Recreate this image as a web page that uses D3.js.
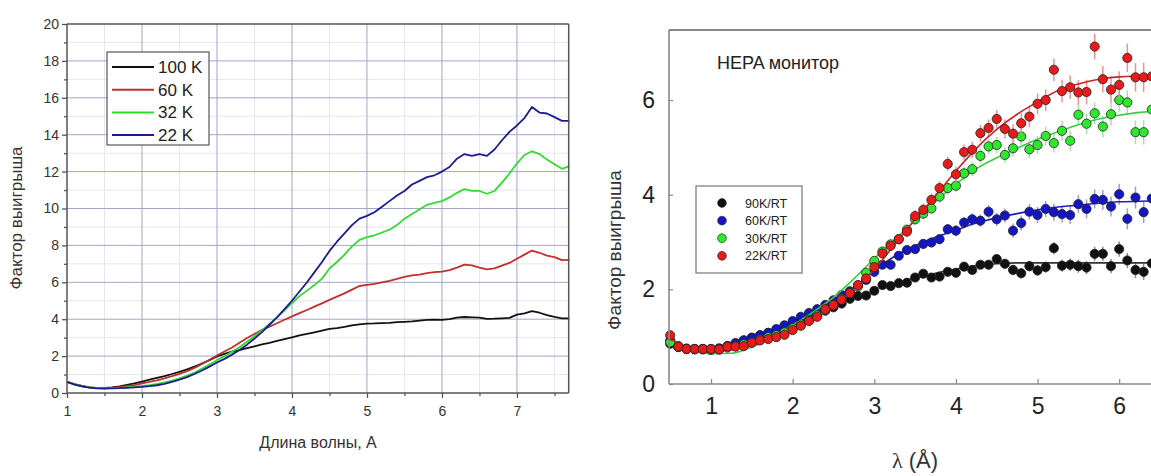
<!DOCTYPE html>
<html>
<head>
<meta charset="utf-8">
<script src="https://cdn.jsdelivr.net/npm/d3@7"></script>
<style>
body { margin: 0; background: #fff; }
svg { display: block; }
text { font-family: Arial, "Liberation Sans", sans-serif; }
</style>
</head>
<body>
<svg id="chart" width="1151" height="476"></svg>
<script>
// ---------- left panel: gain vs wavelength ----------
var waveL = [1.0,1.1,1.2,1.3,1.4,1.5,1.6,1.7,1.8,1.9,
             2.0,2.1,2.2,2.3,2.4,2.5,2.6,2.7,2.8,2.9,
             3.0,3.1,3.2,3.3,3.4,3.5,3.6,3.7,3.8,3.9,
             4.0,4.1,4.2,4.3,4.4,4.5,4.6,4.7,4.8,4.9,
             5.0,5.1,5.2,5.3,5.4,5.5,5.6,5.7,5.8,5.9,
             6.0,6.1,6.2,6.3,6.4,6.5,6.6,6.7,6.8,6.9,
             7.0,7.1,7.2,7.3,7.4,7.5,7.6,7.7];
var gain100K = [0.60,0.48,0.38,0.31,0.27,0.27,0.30,0.36,0.44,0.52,
                0.62,0.72,0.82,0.92,1.03,1.15,1.28,1.43,1.60,1.78,
                1.98,2.12,2.24,2.33,2.43,2.53,2.63,2.72,2.82,2.92,
                3.02,3.12,3.20,3.29,3.38,3.47,3.52,3.58,3.66,3.72,
                3.76,3.77,3.79,3.80,3.84,3.86,3.88,3.92,3.96,3.97,
                3.96,4.00,4.08,4.12,4.10,4.08,4.02,4.03,4.05,4.07,
                4.25,4.32,4.44,4.35,4.22,4.12,4.05,4.05];
var gain60K = [0.60,0.47,0.37,0.30,0.26,0.26,0.28,0.32,0.37,0.43,
               0.52,0.60,0.69,0.79,0.91,1.04,1.19,1.36,1.57,1.80,
               2.03,2.25,2.47,2.72,2.98,3.20,3.42,3.60,3.78,3.97,
               4.15,4.33,4.50,4.68,4.86,5.05,5.22,5.40,5.60,5.80,
               5.86,5.92,6.00,6.08,6.18,6.30,6.38,6.42,6.50,6.55,
               6.58,6.66,6.80,6.96,6.92,6.80,6.70,6.75,6.90,7.05,
               7.28,7.50,7.72,7.60,7.45,7.36,7.20,7.22];
var gain32K = [0.60,0.47,0.37,0.30,0.26,0.25,0.26,0.28,0.31,0.34,
               0.38,0.43,0.49,0.57,0.67,0.80,0.94,1.11,1.32,1.54,
               1.78,2.00,2.23,2.48,2.78,3.08,3.40,3.75,4.10,4.48,
               4.88,5.25,5.55,5.85,6.20,6.75,7.10,7.50,7.95,8.30,
               8.45,8.55,8.70,8.85,9.10,9.45,9.70,9.95,10.20,10.30,
               10.40,10.60,10.85,11.05,10.95,10.95,10.80,10.95,11.40,11.90,
               12.45,12.90,13.10,12.95,12.65,12.40,12.15,12.30];
var gain22K = [0.60,0.46,0.36,0.29,0.25,0.24,0.25,0.26,0.28,0.30,
               0.33,0.37,0.42,0.50,0.60,0.72,0.86,1.03,1.22,1.43,
               1.65,1.85,2.08,2.33,2.62,2.95,3.30,3.70,4.10,4.55,
               5.00,5.50,6.00,6.55,7.10,7.70,8.20,8.65,9.10,9.45,
               9.60,9.80,10.10,10.40,10.70,10.95,11.30,11.50,11.70,11.80,
               12.00,12.25,12.70,12.95,12.85,12.95,12.85,13.20,13.70,14.15,
               14.50,14.90,15.50,15.20,15.15,14.95,14.75,14.75];
var namesL = ["100 K", "60 K", "32 K", "22 K"];
var colorsL = ["#111111", "#c0302e", "#2fdc2f", "#1c1c8e"];
var yTicksL = [0,2,4,6,8,10,12,14,16,18,20];
var xTicksL = [1,2,3,4,5,6,7];

// ---------- right panel: HEPA monitor ----------
var lambdaR = [0.5,0.6,0.7,0.8,0.9,1.0,1.1,1.2,1.3,1.4,
               1.5,1.6,1.7,1.8,1.9,2.0,2.1,2.2,2.3,2.4,
               2.5,2.6,2.7,2.8,2.9,3.0,3.1,3.2,3.3,3.4,
               3.5,3.6,3.7,3.8,3.9,4.0,4.1,4.2,4.3,4.4,
               4.5,4.6,4.7,4.8,4.9,5.0,5.1,5.2,5.3,5.4,
               5.5,5.6,5.7,5.8,5.9,6.0,6.1,6.2,6.3,6.4];
var ratio90K = [0.85,0.78,0.74,0.74,0.74,0.73,0.75,0.80,0.86,0.92,
                0.98,1.03,1.08,1.14,1.22,1.28,1.33,1.40,1.47,1.55,
                1.62,1.70,1.80,1.86,1.87,1.97,2.09,2.07,2.13,2.14,
                2.25,2.33,2.25,2.27,2.37,2.35,2.48,2.41,2.52,2.52,
                2.64,2.54,2.41,2.34,2.49,2.40,2.47,2.87,2.50,2.52,
                2.49,2.46,2.75,2.75,2.49,2.85,2.61,2.41,2.37,2.55];
var ratio60K = [0.92,0.80,0.75,0.74,0.74,0.74,0.75,0.80,0.86,0.92,
                0.97,1.03,1.08,1.16,1.24,1.33,1.42,1.50,1.58,1.67,
                1.77,1.88,1.96,2.08,2.20,2.37,2.52,2.52,2.71,2.83,
                2.85,2.96,2.99,3.06,3.27,3.24,3.41,3.48,3.45,3.64,
                3.48,3.56,3.24,3.40,3.64,3.57,3.70,3.63,3.59,3.57,
                3.80,3.70,3.91,3.89,3.75,4.01,3.49,3.94,3.63,3.92];
var ratio30K = [0.88,0.78,0.74,0.73,0.73,0.72,0.73,0.77,0.80,0.84,
                0.88,0.94,0.99,1.03,1.09,1.18,1.26,1.35,1.45,1.56,
                1.66,1.80,1.92,2.06,2.35,2.60,2.80,2.95,3.06,3.26,
                3.48,3.60,3.71,3.96,4.14,4.19,4.45,4.54,4.82,5.02,
                5.05,4.84,4.98,5.23,4.96,5.05,5.24,5.09,5.35,5.14,
                5.69,5.50,5.72,5.44,5.70,6.00,5.95,5.32,5.32,5.80];
var ratio22K = [1.03,0.79,0.74,0.74,0.74,0.74,0.73,0.79,0.79,0.80,
                0.87,0.92,0.95,0.99,1.04,1.14,1.23,1.33,1.42,1.58,
                1.67,1.78,1.92,2.09,2.23,2.47,2.76,2.92,3.06,3.22,
                3.55,3.68,3.89,4.14,4.65,4.43,4.90,4.95,5.30,5.41,
                5.60,5.39,5.29,5.51,5.65,5.92,6.00,6.64,6.19,6.27,
                6.16,6.17,7.13,6.44,6.22,6.32,6.89,6.48,6.48,6.50];
var err90K = [0.04,0.04,0.04,0.04,0.04,0.04,0.04,0.04,0.04,0.04,
              0.04,0.04,0.04,0.04,0.04,0.05,0.05,0.05,0.05,0.05,
              0.05,0.05,0.06,0.06,0.06,0.06,0.06,0.06,0.07,0.07,
              0.07,0.07,0.08,0.08,0.08,0.08,0.09,0.09,0.09,0.10,
              0.10,0.10,0.11,0.11,0.11,0.12,0.12,0.13,0.13,0.13,
              0.14,0.14,0.15,0.15,0.15,0.16,0.16,0.17,0.17,0.18];
var err60K = [0.04,0.04,0.04,0.04,0.04,0.04,0.04,0.04,0.04,0.04,
              0.04,0.04,0.05,0.05,0.05,0.05,0.05,0.05,0.06,0.06,
              0.06,0.06,0.07,0.07,0.07,0.08,0.08,0.08,0.09,0.09,
              0.10,0.10,0.10,0.11,0.11,0.12,0.12,0.13,0.13,0.14,
              0.14,0.15,0.15,0.16,0.16,0.17,0.17,0.18,0.18,0.19,
              0.19,0.20,0.20,0.21,0.21,0.22,0.22,0.23,0.23,0.24];
var err30K = [0.04,0.04,0.04,0.04,0.04,0.04,0.04,0.04,0.04,0.04,
              0.04,0.05,0.05,0.05,0.05,0.05,0.06,0.06,0.06,0.07,
              0.07,0.07,0.08,0.08,0.09,0.09,0.10,0.10,0.11,0.11,
              0.12,0.12,0.13,0.13,0.14,0.14,0.15,0.15,0.16,0.16,
              0.17,0.17,0.18,0.18,0.19,0.19,0.20,0.20,0.21,0.21,
              0.22,0.22,0.23,0.23,0.24,0.24,0.25,0.25,0.26,0.26];
var err22K = [0.04,0.04,0.04,0.04,0.04,0.04,0.04,0.04,0.04,0.04,
              0.04,0.05,0.05,0.05,0.05,0.05,0.06,0.06,0.06,0.07,
              0.07,0.07,0.08,0.08,0.09,0.09,0.10,0.11,0.11,0.12,
              0.12,0.13,0.14,0.14,0.15,0.16,0.16,0.17,0.18,0.18,
              0.19,0.20,0.20,0.21,0.22,0.22,0.23,0.24,0.24,0.25,
              0.26,0.26,0.27,0.28,0.28,0.29,0.30,0.30,0.31,0.32];
var fitLambda = [0.5,0.75,1.0,1.25,1.5,1.75,2.0,2.25,2.5,2.75,3.0,3.25,3.5,
                 3.75,4.0,4.25,4.5,4.75,5.0,5.25,5.5,5.75,6.0,6.25,6.5];
var fit90K = [null,null,null,null,null,null,null,null,null,null,null,2.12,2.24,
              2.34,2.43,2.50,2.54,2.56,2.56,2.56,2.56,2.56,2.56,2.56,2.56];
var fit60K = [null,null,null,null,null,null,null,null,null,2.02,2.40,2.70,2.92,
              3.10,3.25,3.40,3.51,3.60,3.68,3.74,3.78,3.82,3.85,3.86,3.87];
var fit30K = [0.92,0.72,0.64,0.65,0.78,0.98,1.25,1.52,1.83,2.22,2.65,3.05,3.45,
              3.86,4.22,4.55,4.78,4.98,5.17,5.33,5.48,5.60,5.68,5.74,5.77];
var fit22K = [0.95,0.76,0.70,0.72,0.82,0.97,1.15,1.38,1.65,2.00,2.42,2.95,3.48,
              3.98,4.50,4.98,5.38,5.70,5.96,6.20,6.34,6.44,6.49,6.51,6.52];
var namesR = ["90K/RT", "60K/RT", "30K/RT", "22K/RT"];
var colorsR = ["#111111", "#1515c8", "#2ee82e", "#e81a1a"];
var fitColorsR = ["#333333", "#2020b8", "#3ccc3c", "#d0202a"];
var errColorsR = ["#8a8a8a", "#9a9ae0", "#9ee89e", "#f09090"];
var yTicksR = [0, 2, 4, 6];
var xTicksR = [1, 2, 3, 4, 5, 6];

var svg = d3.select("#chart");
var intFmt = d3.format("d");

// ================= left panel =================
var xL = d3.scaleLinear().domain([1, 7.69]).range([67, 568.7]);
var yL = d3.scaleLinear().domain([0, 20]).range([393, 24]);
var gL = svg.append("g");

// minor grid
var minorX = [1.5,2.5,3.5,4.5,5.5,6.5,7.5];
var minorY = [1,3,5,7,9,11,13,15,17,19];
gL.selectAll("line.mgx").data(minorX).enter().append("line")
  .attr("x1", function(d) { return xL(d); }).attr("x2", function(d) { return xL(d); })
  .attr("y1", yL(0)).attr("y2", yL(20))
  .attr("stroke", "#e6e6f0").attr("stroke-width", 1);
gL.selectAll("line.mgy").data(minorY).enter().append("line")
  .attr("x1", xL(1)).attr("x2", xL.range()[1])
  .attr("y1", function(d) { return yL(d); }).attr("y2", function(d) { return yL(d); })
  .attr("stroke", "#e6e6f0").attr("stroke-width", 1);
// major grid
gL.selectAll("line.gx").data(xTicksL.slice(1)).enter().append("line")
  .attr("x1", function(d) { return xL(d); }).attr("x2", function(d) { return xL(d); })
  .attr("y1", yL(0)).attr("y2", yL(20))
  .attr("stroke", "#a4a4cc").attr("stroke-width", 1);
gL.selectAll("line.gy").data(yTicksL.slice(1, -1)).enter().append("line")
  .attr("x1", xL(1)).attr("x2", xL.range()[1])
  .attr("y1", function(d) { return yL(d); }).attr("y2", function(d) { return yL(d); })
  .attr("stroke", "#a4a4cc").attr("stroke-width", 1);

// curves
var lineL = d3.line().x(function(d) { return xL(d[0]); }).y(function(d) { return yL(d[1]); });
[gain100K, gain60K, gain32K, gain22K].forEach(function(s, k) {
  gL.append("path")
    .datum(waveL.map(function(w, i) { return [w, s[i]]; }))
    .attr("d", lineL)
    .attr("fill", "none")
    .attr("stroke", colorsL[k])
    .attr("stroke-width", 1.8)
    .attr("stroke-linejoin", "round");
});

// frame
gL.append("line").attr("x1", xL(1)).attr("x2", xL.range()[1]).attr("y1", yL(20)).attr("y2", yL(20))
  .attr("stroke", "#555").attr("stroke-width", 1.5);
gL.append("line").attr("x1", xL.range()[1]).attr("x2", xL.range()[1]).attr("y1", yL(0)).attr("y2", yL(20))
  .attr("stroke", "#555").attr("stroke-width", 1.5);

// axes
var axL = gL.append("g").attr("transform", "translate(" + xL(1) + ",0)")
  .call(d3.axisLeft(yL).tickValues(yTicksL).tickFormat(intFmt).tickSize(5).tickPadding(3));
var axLm = gL.append("g").attr("transform", "translate(" + xL(1) + ",0)")
  .call(d3.axisLeft(yL).tickValues(minorY).tickSize(3).tickFormat(""));
var axB = gL.append("g").attr("transform", "translate(0," + yL(0) + ")")
  .call(d3.axisBottom(xL).tickValues(xTicksL).tickFormat(intFmt).tickSize(5).tickPadding(8));
var axBm = gL.append("g").attr("transform", "translate(0," + yL(0) + ")")
  .call(d3.axisBottom(xL).tickValues(minorX).tickSize(3).tickFormat(""));
[axL, axLm, axB, axBm].forEach(function(a) {
  a.select(".domain").attr("stroke", "#555").attr("stroke-width", 1.5);
  a.selectAll(".tick line").attr("stroke", "#555").attr("stroke-width", 1.3);
  a.selectAll("text").attr("font-size", 14).attr("fill", "#333").attr("font-family", "Arial, Liberation Sans, sans-serif");
});
axL.select(".domain").attr("d", "M0," + yL(0) + "V" + yL(20));
axB.select(".domain").attr("d", "M" + xL(1) + ",0H" + xL.range()[1]);
axLm.select(".domain").remove();
axBm.select(".domain").remove();

gL.append("text")
  .attr("transform", "translate(22,218) rotate(-90)")
  .attr("text-anchor", "middle")
  .attr("font-size", 17)
  .attr("fill", "#333")
  .text("Фактор выигрыша");
gL.append("text")
  .attr("x", 318).attr("y", 448)
  .attr("text-anchor", "middle")
  .attr("font-size", 16)
  .attr("fill", "#333")
  .text("Длина волны, А");

// legend
var legL = gL.append("g");
legL.append("rect").attr("x", 107).attr("y", 52).attr("width", 102).attr("height", 93)
  .attr("fill", "#fff").attr("stroke", "#555").attr("stroke-width", 1.2);
namesL.forEach(function(n, k) {
  var yy = 67 + k * 22.7;
  legL.append("line").attr("x1", 112).attr("x2", 154).attr("y1", yy).attr("y2", yy)
    .attr("stroke", colorsL[k]).attr("stroke-width", 2);
  legL.append("text").attr("x", 158).attr("y", yy + 6)
    .attr("font-size", 17).attr("fill", "#222").text(n);
});

// ================= right panel =================
var xR = d3.scaleLinear().domain([0.485, 6.39]).range([669, 1151]);
var yR = d3.scaleLinear().domain([0, 7.48]).range([384, 30]);
var gR = svg.append("g");

svg.append("defs").append("clipPath").attr("id", "clipR")
  .append("rect").attr("x", 660).attr("y", 20).attr("width", 491).attr("height", 370);

// fits
var lineR = d3.line()
  .defined(function(d) { return d[1] != null; })
  .curve(d3.curveMonotoneX)
  .x(function(d) { return xR(d[0]); }).y(function(d) { return yR(d[1]); });

var plotR = gR.append("g").attr("clip-path", "url(#clipR)");
var seriesR = [ratio90K, ratio60K, ratio30K, ratio22K];
var errsR = [err90K, err60K, err30K, err22K];
var fitsR = [fit90K, fit60K, fit30K, fit22K];

seriesR.forEach(function(s, k) {
  var pts = lambdaR.map(function(l, i) { return { x: l, y: s[i], e: errsR[k][i] }; });
  plotR.selectAll("line.e" + k).data(pts).enter().append("line")
    .attr("x1", function(d) { return xR(d.x); }).attr("x2", function(d) { return xR(d.x); })
    .attr("y1", function(d) { return yR(d.y - d.e); }).attr("y2", function(d) { return yR(d.y + d.e); })
    .attr("stroke", errColorsR[k]).attr("stroke-width", 1.5);
  plotR.append("path")
    .datum(fitLambda.map(function(l, i) { return [l, fitsR[k][i]]; }))
    .attr("d", lineR)
    .attr("fill", "none")
    .attr("stroke", fitColorsR[k])
    .attr("stroke-width", 1.6);
  plotR.selectAll("circle.p" + k).data(pts).enter().append("circle")
    .attr("cx", function(d) { return xR(d.x); })
    .attr("cy", function(d) { return yR(d.y); })
    .attr("r", 4.6)
    .attr("fill", colorsR[k])
    .attr("stroke", "#222")
    .attr("stroke-width", 0.8);
});

// frame + axes
gR.append("line").attr("x1", 669).attr("x2", 1151).attr("y1", yR(7.48)).attr("y2", yR(7.48))
  .attr("stroke", "#888").attr("stroke-width", 2);
var axRL = gR.append("g").attr("transform", "translate(669,0)")
  .call(d3.axisLeft(yR).tickValues(yTicksR).tickFormat(intFmt).tickSize(-4).tickPadding(14));
var axRB = gR.append("g").attr("transform", "translate(0,384)")
  .call(d3.axisBottom(xR).tickValues(xTicksR).tickFormat(intFmt).tickSize(-5).tickPadding(14));
[axRL, axRB].forEach(function(a) {
  a.select(".domain").attr("stroke", "#888").attr("stroke-width", 1.6);
  a.selectAll(".tick line").attr("stroke", "#888").attr("stroke-width", 1.2);
  a.selectAll("text").attr("font-size", 23).attr("fill", "#222").attr("font-family", "Arial, Liberation Sans, sans-serif");
});
axRL.select(".domain").attr("d", "M0," + yR(0) + "V" + yR(7.48));
axRB.select(".domain").attr("d", "M669,0H1151");

gR.append("text")
  .attr("transform", "translate(621,250) rotate(-90)")
  .attr("text-anchor", "middle")
  .attr("font-size", 19)
  .attr("fill", "#333")
  .text("Фактор выигрыша");

var lam = gR.append("text").attr("x", 915).attr("y", 468).attr("text-anchor", "middle")
  .attr("font-size", 22).attr("fill", "#333");
lam.append("tspan").attr("font-family", "Liberation Serif, Times New Roman, serif").text("λ");
lam.append("tspan").text(" (Å)");

gR.append("text").attr("x", 717).attr("y", 69)
  .attr("font-size", 18).attr("fill", "#222").text("HEPA монитор");

// legend
var legR = gR.append("g");
legR.append("rect").attr("x", 696).attr("y", 186).attr("width", 106).attr("height", 87)
  .attr("fill", "#fff").attr("stroke", "#777").attr("stroke-width", 1.2);
namesR.forEach(function(n, k) {
  var yy = 203 + k * 17.6;
  legR.append("circle").attr("cx", 722).attr("cy", yy).attr("r", 4.4)
    .attr("fill", colorsR[k]).attr("stroke", "#222").attr("stroke-width", 0.6);
  legR.append("text").attr("x", 745).attr("y", yy + 4.5)
    .attr("font-size", 12.5).attr("fill", "#222").text(n);
});
</script>
</body>
</html>
